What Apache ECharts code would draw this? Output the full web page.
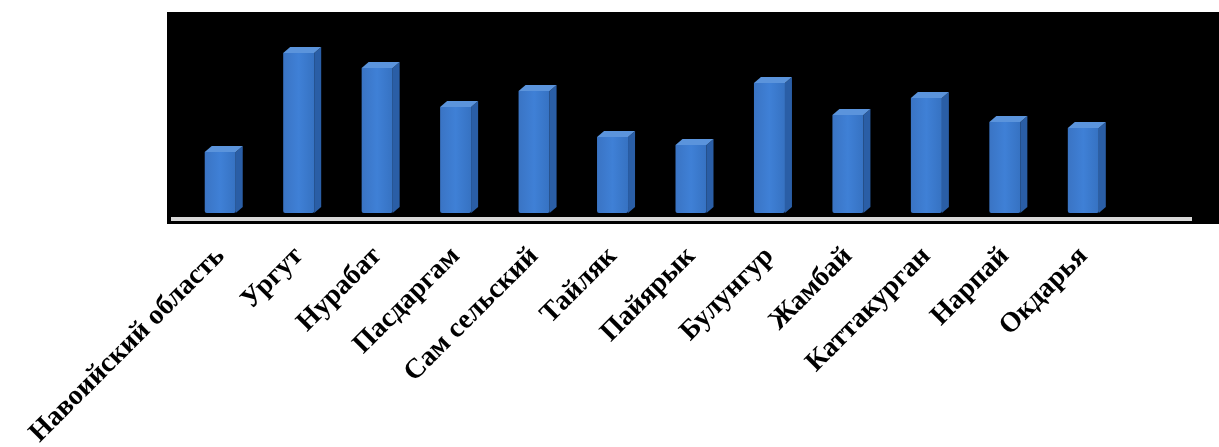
<!DOCTYPE html>
<html>
<head>
<meta charset="utf-8">
<script src="https://cdn.jsdelivr.net/npm/echarts@6/dist/echarts.min.js"></script>
<style>
html,body{margin:0;padding:0;background:#fff;}
#chart{width:1219px;height:447px;}
</style>
</head>
<body>
<div id="chart"></div>
<script>
var categories = ['Навоийский область','Ургут','Нурабат','Пасдаргам','Сам сельский','Тайляк','Пайярык','Булунгур','Жамбай','Каттакурган','Нарпай','Окдарья',''];
var values = [61,160,145,106,122,76,68,130,98,115,91,85];

var chart = echarts.init(document.getElementById('chart'));

function renderBar(params, api) {
  var idx = api.value(0);
  var v = api.value(1);
  var base = api.coord([idx, 0]);
  var top = api.coord([idx, v]);
  var w = 31, dx = 7, dy = 6;
  var x0 = base[0] - w / 2, x1 = base[0] + w / 2;
  var yb = base[1], yt = top[1];
  return {
    type: 'group',
    children: [
      { type: 'polygon', shape: { points: [[x1, yb], [x1 + dx, yb - dy], [x1 + dx, yt - dy], [x1, yt]] },
        style: { fill: '#2a5ea6' } },
      { type: 'polygon', shape: { points: [[x0, yt], [x0 + dx, yt - dy], [x1 + dx, yt - dy], [x1, yt]] },
        style: { fill: '#5b94dc' } },
      { type: 'rect', shape: { x: x0, y: yt, width: w, height: yb - yt, r: [0, 0, 2, 2] },
        style: { fill: new echarts.graphic.LinearGradient(0, 0, 1, 0, [
          { offset: 0, color: '#3a74c4' }, { offset: 0.5, color: '#3f80d6' }, { offset: 1, color: '#3672c2' }]) } }
    ]
  };
}

chart.setOption({
  animation: false,
  backgroundColor: '#ffffff',
  graphic: [
    { type: 'rect', z: -10, shape: { x: 167, y: 12, width: 1052, height: 212 }, style: { fill: '#000000' } },
    { type: 'rect', z: 10, shape: { x: 171, y: 217, width: 1021, height: 4 }, style: { fill: '#d8d8d8' } }
  ],
  grid: { left: 181, top: 13, width: 1020, bottom: 234, containLabel: false, outerBoundsMode: 'none' },
  xAxis: {
    type: 'category',
    data: categories,
    axisLine: { show: false },
    axisTick: { show: false },
    axisLabel: {
      interval: 0,
      rotate: 45,
      margin: 39,
      color: '#000',
      fontFamily: 'Liberation Serif',
      fontWeight: 'bold',
      fontSize: 28
    }
  },
  yAxis: {
    type: 'value',
    min: 0,
    max: 200,
    show: false,
    splitLine: { show: false }
  },
  series: [{
    type: 'custom',
    renderItem: renderBar,
    data: values.map(function (v, i) { return [i, v]; }),
    encode: { x: 0, y: 1 }
  }]
});
</script>
</body>
</html>
